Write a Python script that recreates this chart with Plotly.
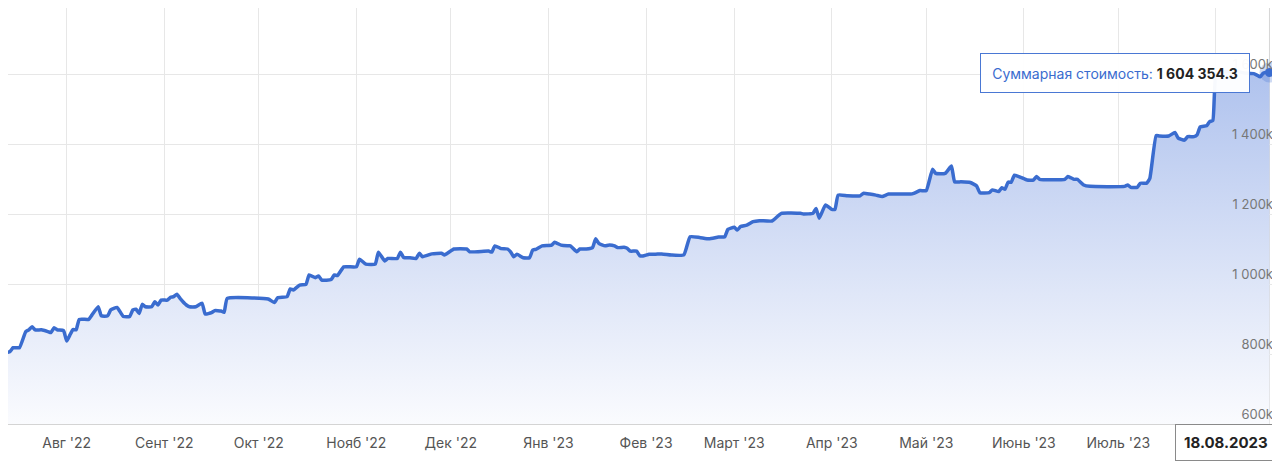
import plotly.graph_objects as go
from datetime import datetime

# ---- data (values in thousands of rubles) ----
dates = [
    "2022-07-13", "2022-07-14", "2022-07-15", "2022-07-17", "2022-07-19", "2022-07-20", "2022-07-21", "2022-07-22",
    "2022-07-24", "2022-07-26", "2022-07-27", "2022-07-28", "2022-07-29", "2022-07-31", "2022-08-01", "2022-08-02",
    "2022-08-03", "2022-08-04", "2022-08-05", "2022-08-08", "2022-08-09", "2022-08-11", "2022-08-12", "2022-08-14",
    "2022-08-15", "2022-08-17", "2022-08-19", "2022-08-21", "2022-08-22", "2022-08-23", "2022-08-24", "2022-08-25",
    "2022-08-26", "2022-08-28", "2022-08-29", "2022-08-30", "2022-08-31", "2022-09-02", "2022-09-03", "2022-09-04",
    "2022-09-05", "2022-09-06", "2022-09-08", "2022-09-09", "2022-09-11", "2022-09-13", "2022-09-14", "2022-09-16",
    "2022-09-17", "2022-09-19", "2022-09-20", "2022-09-21", "2022-10-04", "2022-10-06", "2022-10-07", "2022-10-10",
    "2022-10-11", "2022-10-12", "2022-10-14", "2022-10-16", "2022-10-17", "2022-10-19", "2022-10-20", "2022-10-21",
    "2022-10-24", "2022-10-25", "2022-10-26", "2022-10-28", "2022-11-01", "2022-11-02", "2022-11-04", "2022-11-07",
    "2022-11-08", "2022-11-10", "2022-11-11", "2022-11-14", "2022-11-15", "2022-11-16", "2022-11-18", "2022-11-20",
    "2022-11-21", "2022-11-22", "2022-11-25", "2022-11-28", "2022-11-29", "2022-12-02", "2022-12-06", "2022-12-07",
    "2022-12-13", "2022-12-14", "2022-12-15", "2022-12-17", "2022-12-19", "2022-12-20", "2022-12-21", "2022-12-22",
    "2022-12-24", "2022-12-26", "2022-12-27", "2022-12-28", "2022-12-30", "2023-01-02", "2023-01-03", "2023-01-05",
    "2023-01-07", "2023-01-08", "2023-01-10", "2023-01-11", "2023-01-13", "2023-01-15", "2023-01-16", "2023-01-17",
    "2023-01-19", "2023-01-20", "2023-01-22", "2023-01-23", "2023-01-25", "2023-01-26", "2023-01-27", "2023-01-29",
    "2023-01-30", "2023-01-31", "2023-02-02", "2023-02-04", "2023-02-06", "2023-02-09", "2023-02-13", "2023-02-15",
    "2023-02-18", "2023-02-21", "2023-02-24", "2023-02-26", "2023-02-27", "2023-03-01", "2023-03-02", "2023-03-03",
    "2023-03-05", "2023-03-07", "2023-03-09", "2023-03-13", "2023-03-16", "2023-03-22", "2023-03-23", "2023-03-26",
    "2023-03-27", "2023-03-28", "2023-03-30", "2023-04-01", "2023-04-02", "2023-04-03", "2023-04-06", "2023-04-10",
    "2023-04-11", "2023-04-13", "2023-04-15", "2023-04-17", "2023-04-19", "2023-04-26", "2023-04-27", "2023-04-29",
    "2023-05-01", "2023-05-03", "2023-05-04", "2023-05-07", "2023-05-09", "2023-05-10", "2023-05-12", "2023-05-15",
    "2023-05-17", "2023-05-18", "2023-05-21", "2023-05-22", "2023-05-24", "2023-05-25", "2023-05-26", "2023-05-27",
    "2023-05-28", "2023-05-29", "2023-05-31", "2023-06-02", "2023-06-04", "2023-06-05", "2023-06-06", "2023-06-14",
    "2023-06-15", "2023-06-17", "2023-06-18", "2023-06-20", "2023-06-22", "2023-07-03", "2023-07-04", "2023-07-05",
    "2023-07-07", "2023-07-08", "2023-07-10", "2023-07-11", "2023-07-13", "2023-07-14", "2023-07-17", "2023-07-19",
    "2023-07-20", "2023-07-22", "2023-07-23", "2023-07-25", "2023-07-26", "2023-07-27", "2023-07-29", "2023-07-30",
    "2023-07-31", "2023-08-01", "2023-08-03", "2023-08-07", "2023-08-10", "2023-08-13", "2023-08-14", "2023-08-15",
    "2023-08-16", "2023-08-17", "2023-08-18",
]
values_k = [
    804, 807, 818, 818, 864, 869, 878, 869,
    869, 864, 861, 875, 869, 867, 837, 854,
    870, 869, 899, 899, 911, 935, 909, 909,
    926, 933, 907, 907, 926, 928, 916, 942,
    935, 935, 949, 940, 954, 954, 962, 964,
    971, 959, 940, 935, 935, 945, 914, 918,
    924, 923, 919, 959, 957, 947, 961, 964,
    986, 983, 997, 999, 1026, 1018, 1023, 1011,
    1013, 1026, 1024, 1049, 1049, 1071, 1057, 1057,
    1091, 1066, 1073, 1073, 1091, 1076, 1075, 1073,
    1088, 1078, 1086, 1088, 1083, 1100, 1100, 1092,
    1094, 1091, 1109, 1101, 1100, 1092, 1078, 1085,
    1075, 1075, 1097, 1099, 1109, 1111, 1119, 1111,
    1109, 1109, 1092, 1100, 1100, 1104, 1129, 1116,
    1109, 1111, 1109, 1104, 1105, 1102, 1094, 1094,
    1081, 1080, 1085, 1085, 1086, 1083, 1083, 1135,
    1133, 1129, 1134, 1135, 1156, 1162, 1154, 1164,
    1168, 1178, 1181, 1180, 1202, 1202, 1200, 1202,
    1216, 1188, 1226, 1213, 1213, 1254, 1252, 1252,
    1259, 1257, 1254, 1250, 1257, 1257, 1259, 1267,
    1267, 1328, 1316, 1316, 1337, 1292, 1292, 1290,
    1280, 1261, 1261, 1269, 1264, 1275, 1271, 1291,
    1291, 1311, 1305, 1297, 1297, 1307, 1299, 1299,
    1307, 1299, 1299, 1283, 1279, 1279, 1283, 1276,
    1276, 1288, 1288, 1302, 1424, 1423, 1423, 1433,
    1417, 1411, 1421, 1421, 1426, 1449, 1452, 1464,
    1467, 1598, 1606, 1609, 1603, 1601, 1597, 1592,
    1602, 1605, 1604.3543,
]
month_ticks = ["2022-08-01", "2022-09-01", "2022-10-01", "2022-11-01", "2022-12-01", "2023-01-01",
               "2023-02-01", "2023-03-01", "2023-04-01", "2023-05-01", "2023-06-01", "2023-07-01", "2023-08-01"]
# the August '23 label sits under the hovered-date badge, so it is left blank
month_labels = ["Авг '22", "Сент '22", "Окт '22", "Нояб '22", "Дек '22", "Янв '23",
                "Фев '23", "Март '23", "Апр '23", "Май '23", "Июнь '23", "Июль '23", ""]
y_ticks = [600, 800, 1000, 1200, 1400, 1600]
y_labels = ["600k", "800k", "1 000k", "1 200k", "1 400k", "1 600k"]
series_name = "Суммарная стоимость"

LINE = "#3a6ccf"
FONT = "Inter"

# The page body has an 8px margin, so the figure is sized to end at the window edge.
W, H = 1272, 454

fig = go.Figure()
fig.add_trace(go.Scatter(
    x=dates, y=values_k, mode="lines",
    line=dict(color=LINE, width=3.5, shape="spline", smoothing=0.4),
    fill="tozeroy",
    fillgradient=dict(type="vertical", start=600, stop=1650,
                      colorscale=[[0, "rgba(250,251,254,1)"], [0.35, "rgba(224,231,248,1)"],
                                  [1, "rgba(172,192,237,1)"]]),
    hoverinfo="skip", showlegend=False,
))
# hovered end point
fig.add_trace(go.Scatter(x=[dates[-1]], y=[values_k[-1]], mode="markers",
                         marker=dict(size=20, color="rgba(58,108,207,0.25)"),
                         hoverinfo="skip", showlegend=False))
fig.add_trace(go.Scatter(x=[dates[-1]], y=[values_k[-1]], mode="markers",
                         marker=dict(size=9, color=LINE),
                         hoverinfo="skip", showlegend=False))

# crosshair
fig.add_shape(type="line", xref="x", yref="paper", x0=dates[-1], x1=dates[-1], y0=0, y1=1,
              line=dict(color="#d6d6d6", width=1), layer="below")

last_val = values_k[-1] * 1000
int_part, frac = divmod(round(last_val * 10), 10)
val_txt = f"{int_part:,}".replace(",", " ") + f".{frac}"
fig.add_annotation(
    xref="paper", yref="paper", x=(1250 - 8) / 1270, y=(424 - 73) / 416,
    xanchor="right", yanchor="middle",
    text=f"<span style='color:#3a6ccf'>{series_name}: </span><b>{val_txt}</b>",
    showarrow=False, font=dict(family=FONT, size=14, color="#222"),
    width=250, height=20,
    bgcolor="rgba(255,255,255,0.96)", bordercolor="#4a78d4", borderwidth=1, borderpad=9,
)
d_last = datetime.strptime(dates[-1], "%Y-%m-%d").strftime("%d.%m.%Y")
fig.add_annotation(
    xref="paper", yref="paper", x=(1277 - 8) / 1270, y=(424 - 442) / 416,
    xanchor="right", yanchor="middle",
    text=f"<b>{d_last}</b>", showarrow=False,
    font=dict(family=FONT, size=15, color="#222"),
    bgcolor="white", bordercolor="#8a8a8a", borderwidth=1, borderpad=8,
)

fig.update_layout(
    width=W, height=H,
    margin=dict(l=0, r=2, t=0, b=38, autoexpand=False),
    plot_bgcolor="white", paper_bgcolor="white",
    font=dict(family=FONT),
    xaxis=dict(
        range=["2022-07-13 08:40", "2023-08-20 17:00"],
        tickmode="array", tickvals=month_ticks, ticktext=month_labels,
        showgrid=True, gridcolor="#e7e7e7", gridwidth=1,
        showline=True, linecolor="#d4d4d4", ticks="",
        ticklabelstandoff=6,
        tickfont=dict(size=14, color="#555"),
        fixedrange=True,
    ),
    yaxis=dict(
        range=[600, 1788.6], side="right",
        tickmode="array", tickvals=y_ticks, ticktext=y_labels,
        ticklabelposition="inside top",
        ticklabelstandoff=2,
        showgrid=True, gridcolor="#e7e7e7", zeroline=False, showline=False, ticks="",
        tickfont=dict(size=13, color="#777"),
        fixedrange=True,
    ),
)

fig.write_html("out.html")
